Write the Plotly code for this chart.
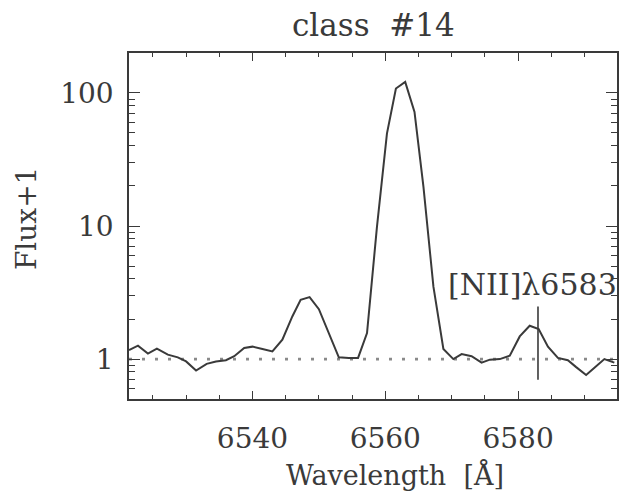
import plotly.graph_objects as go

wavelength = [6521.4, 6522.75, 6524.25, 6525.6, 6527.25, 6528.75, 6530.0, 6531.5, 6533.1, 6534.5,
              6536.0, 6537.25, 6538.75, 6540.0, 6541.5, 6543.0, 6544.5, 6546.0, 6547.25, 6548.6,
              6550.0, 6551.5, 6553.0, 6554.5, 6555.9, 6557.25, 6558.75, 6560.25, 6561.6, 6563.0,
              6564.4, 6565.75, 6567.25, 6568.75, 6570.25, 6571.5, 6573.0, 6574.5, 6575.75, 6577.25,
              6578.75, 6580.25, 6581.75, 6583.1, 6584.5, 6586.0, 6587.5, 6588.75, 6590.25, 6591.5,
              6593.0, 6594.5]
flux_plus_1 = [1.17, 1.26, 1.10, 1.20, 1.08, 1.03, 0.96, 0.82, 0.92, 0.96,
               0.98, 1.05, 1.21, 1.24, 1.19, 1.14, 1.40, 2.09, 2.79, 2.92,
               2.37, 1.57, 1.03, 1.02, 1.02, 1.57, 9.9, 49.5, 108, 121,
               72, 19.7, 3.5, 1.19, 1.00, 1.09, 1.05, 0.94, 0.99, 1.00,
               1.06, 1.48, 1.78, 1.68, 1.24, 1.02, 0.98, 0.87, 0.76, 0.86,
               1.00, 0.94]

line_wavelength = 6583
line_marker_y = [0.70, 2.48]
line_label = "[NII]λ6583"
x_range = [6521.4, 6594.9]
y_range_log = [-0.3, 2.3]

FONT = "DejaVu Serif"
DARK = "#3a3a3a"

fig = go.Figure()
fig.add_trace(go.Scatter(x=x_range, y=[1, 1], mode="lines",
                         line=dict(color="#8a8a8a", width=2.6, dash="3px,10px"),
                         hoverinfo="skip"))
fig.add_trace(go.Scatter(x=wavelength, y=flux_plus_1, mode="lines",
                         line=dict(color=DARK, width=2)))
fig.add_trace(go.Scatter(x=[line_wavelength, line_wavelength], y=line_marker_y, mode="lines",
                         line=dict(color=DARK, width=1.6)))

fig.add_annotation(x=6582.1, y=0.557, xref="x", yref="y", text=line_label, showarrow=False,
                   font=dict(family=FONT, size=30, color=DARK), xanchor="center", yanchor="middle")
fig.add_annotation(x=0.5, y=1, xref="paper", yref="paper", yshift=28, text="class  #14",
                   showarrow=False, font=dict(family=FONT, size=31, color=DARK),
                   xanchor="center", yanchor="middle")
fig.add_annotation(x=0.545, y=0, xref="paper", yref="paper", yshift=-76, text="Wavelength  [Å]",
                   showarrow=False, font=dict(family=FONT, size=27, color=DARK),
                   xanchor="center", yanchor="middle")
fig.add_annotation(x=0, y=0.52, xref="paper", yref="paper", xshift=-103, text="Flux+1",
                   showarrow=False, textangle=-90, font=dict(family=FONT, size=28, color=DARK),
                   xanchor="center", yanchor="middle")

fig.update_layout(
    width=625, height=492,
    margin=dict(l=129, r=6, t=53, b=93),
    paper_bgcolor="white", plot_bgcolor="white",
    showlegend=False,
    font=dict(family=FONT, size=28, color=DARK),
)
fig.update_xaxes(range=x_range, tick0=6540, dtick=20, ticks="inside", ticklen=8, tickwidth=1.3,
                 tickcolor=DARK, showline=True, linecolor=DARK, linewidth=1.6, mirror="ticks",
                 showgrid=False, zeroline=False, ticklabelstandoff=14,
                 minor=dict(ticks="inside", ticklen=4, tickwidth=1.2, tickcolor=DARK, dtick=5,
                            showgrid=False))
fig.update_yaxes(type="log", range=y_range_log, dtick=1, ticks="inside", ticklen=11, tickwidth=1.3,
                 tickcolor=DARK, showline=True, linecolor=DARK, linewidth=1.6, mirror="ticks",
                 showgrid=False, zeroline=False, ticklabelstandoff=8,
                 minor=dict(ticks="inside", ticklen=6, tickwidth=1.2, tickcolor=DARK, dtick="D1",
                            showgrid=False))

fig.write_html("out.html")
